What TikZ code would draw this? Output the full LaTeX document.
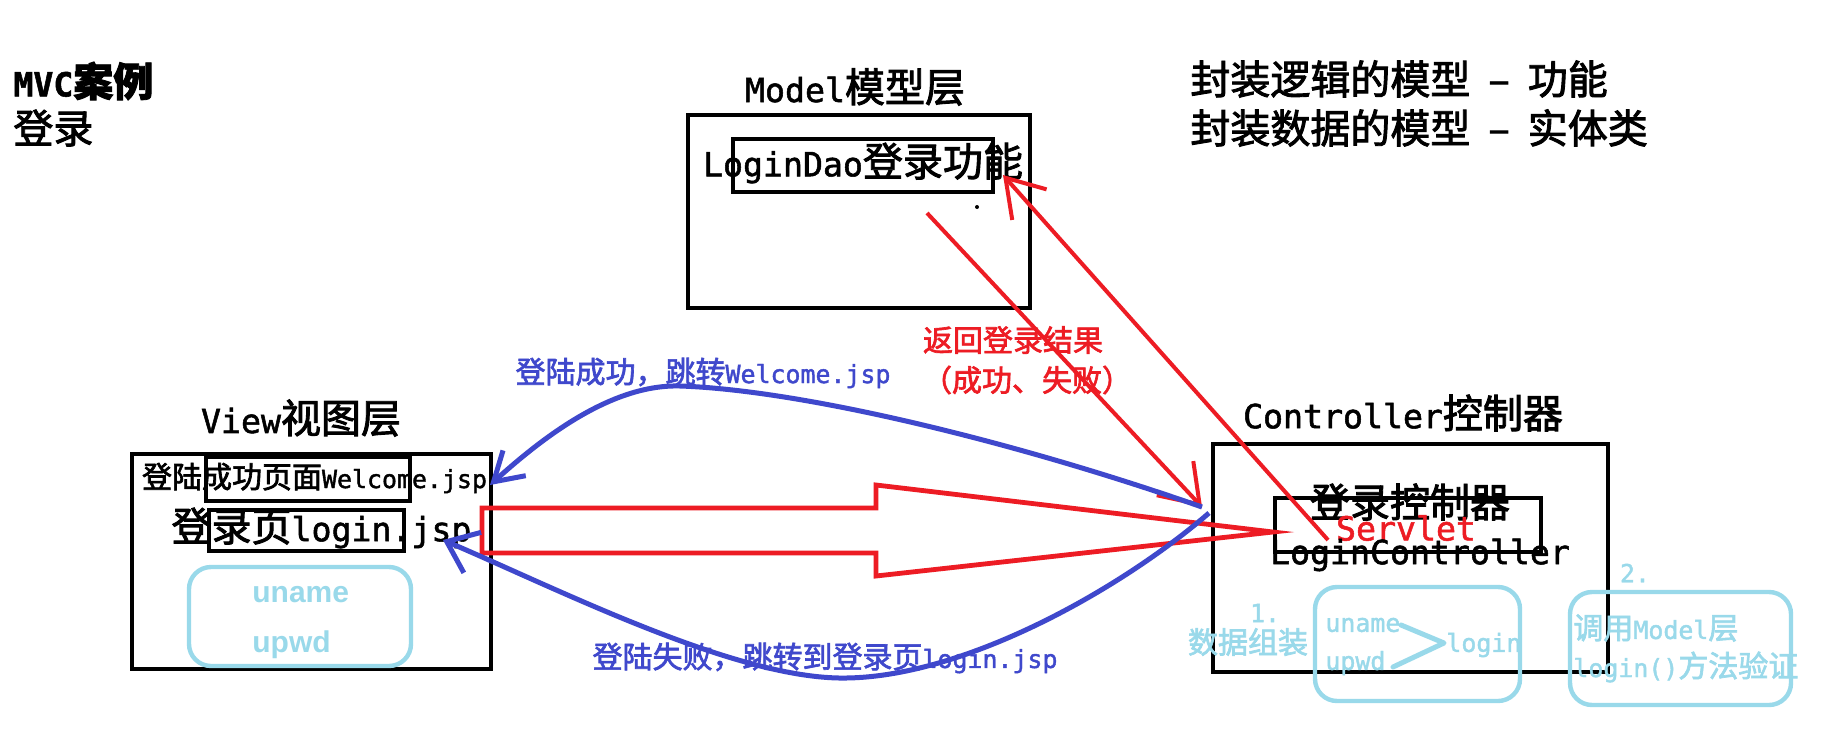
\documentclass[tikz,border=0pt]{standalone}
\usepackage{fontspec}
\setmainfont{Noto Sans CJK SC}[FakeBold=2.2]
\newfontfamily\monof{DejaVu Sans Mono}[Scale=0.83, FakeBold=1.6]
\newcommand\ml[1]{{\monof #1}}
\newfontfamily\arialf{Liberation Sans}
\usetikzlibrary{arrows.meta}
\definecolor{pred}{HTML}{ED1C24}
\definecolor{pblue}{HTML}{3F48CC}
\definecolor{plight}{HTML}{99D9EA}
\begin{document}
\begin{tikzpicture}[x=0.5pt,y=-0.5pt,
  box/.style={draw=black, line width=2.2pt, inner sep=0pt},
  rbox/.style={draw=plight, line width=2.2pt, rounded corners=11pt, inner sep=0pt},
  big/.style={inner sep=0pt, font=\fontsize{20pt}{22pt}\selectfont},
  small/.style={inner sep=0pt, font=\fontsize{15pt}{17pt}\selectfont},
  redline/.style={draw=pred, line width=2pt},
  blueline/.style={draw=pblue, line width=2.5pt},
  lightline/.style={draw=plight, line width=2.5pt, line join=round, line cap=round}
]
\useasboundingbox[fill=white] (0,0) rectangle (1823,728);

% top-left titles
\node[big, anchor=west, font=\fontsize{20pt}{22pt}\selectfont\bfseries] (t1) at (13,81) {\ml{MVC}案例};
\node[big, anchor=west] (t2) at (13,128) {登录};

% notes top-right
\node[big, anchor=west] (n1) at (1190,79) {封装逻辑的模型\hspace{0.45em}–\hspace{0.45em}功能};
\node[big, anchor=west] (n2) at (1190,128) {封装数据的模型\hspace{0.45em}–\hspace{0.45em}实体类};

% Model
\node[big] (mtitle) at (855,87) {\ml{Model}模型层};
\node[box, minimum width=171pt, minimum height=96.5pt] (model) at (859,211.5) {};
\node[box, minimum width=130pt, minimum height=26.5pt] (modelin) at (863,165.5) {};
\node[big] (dao) at (863,163) {\ml{LoginDao}登录功能};
\fill (977,207) circle (1pt);

% View
\node[big] (vtitle) at (301,418) {\ml{View}视图层};
\node[box, minimum width=179.5pt, minimum height=107.5pt] (view) at (311.5,561.5) {};
\node[box, minimum width=102pt, minimum height=22pt] (welbox) at (308,479) {};
\node[box, minimum width=97.5pt, minimum height=20.5pt] (logbox) at (306.5,530.5) {};
\node[small] (wel) at (314.5,478) {登陆成功页面\ml{Welcome.jsp}};
\node[big] (log) at (321.5,528) {登录页\ml{login.jsp}};
\node[rbox, minimum width=111pt, minimum height=49.5pt] (form) at (300,616.5) {};
\node[inner sep=0pt, anchor=west, text=plight, font=\arialf\bfseries\fontsize{15pt}{17pt}\selectfont] (vu) at (252,595) {uname};
\node[inner sep=0pt, anchor=west, text=plight, font=\arialf\bfseries\fontsize{15pt}{17pt}\selectfont] (vp) at (252,645) {upwd};

% Controller
\node[big] (ctitle) at (1403,413) {\ml{Controller}控制器};
\node[box, minimum width=197.5pt, minimum height=114pt] (ctrl) at (1410.5,558) {};
\node[box, minimum width=133pt, minimum height=27pt] (ctrlin) at (1408,525) {};
\node[big] (lc1) at (1410,502) {登录控制器};
\node[big, text=pred] (servlet) at (1406,528) {\ml{Servlet}};
\node[big] (lc2) at (1420,555) {\ml{LoginController}};

% step 1
\node[small, text=plight] (s1n) at (1265,613) {\ml{1.}};
\node[small, text=plight] (s1t) at (1248,642) {数据组装};
\node[rbox, minimum width=102.5pt, minimum height=57pt] (cb1) at (1417.5,644) {};
\node[small, anchor=west, text=plight] (cu) at (1325,625) {\ml{uname}};
\node[small, anchor=west, text=plight] (cp) at (1325,663) {\ml{upwd}};
\node[small, anchor=west, text=plight] (cl) at (1446,645) {\ml{login}};
\coordinate (chA) at (1401,625);
\coordinate (chB) at (1444,643);
\coordinate (chC) at (1393,667);
\draw[lightline] (chA) -- (chB) -- (chC);

% step 2
\node[small, text=plight] (s2n) at (1635,573) {\ml{2.}};
\node[rbox, minimum width=110.5pt, minimum height=56.5pt] (cb2) at (1680.5,648.5) {};
\node[small, anchor=west, text=plight] (s2a) at (1573,628) {调用\ml{Model}层};
\node[small, anchor=west, text=plight] (s2b) at (1573,667) {\ml{login()}方法验证};

% big hollow red arrow view -> controller
\coordinate (ba1) at (482,508);
\coordinate (ba2) at (876,508);
\coordinate (ba3) at (876,485);
\coordinate (batip) at (1273,532);
\coordinate (ba5) at (876,576);
\coordinate (ba6) at (876,553);
\coordinate (ba7) at (482,553);
\draw[redline, line width=2.4pt] (ba1) -- (ba2) -- (ba3) -- (batip) -- (ba5) -- (ba6) -- (ba7) -- cycle;

% red lines model <-> controller
\coordinate (retS) at (927,213);
\coordinate (retE) at (1202,507);
\draw[redline, -{Straight Barb[length=18pt,width=25pt,line width=2pt]}] (retS) -- (retE);
\coordinate (callS) at (1328,540);
\coordinate (callE) at (1003,175);
\draw[redline, -{Straight Barb[length=18pt,width=23pt,line width=2pt]}] (callS) -- (callE);
\node[small, text=pred] (ret1) at (1013,340) {返回登录结果};
\node[small, text=pred] (ret2) at (1027,380) {（成功、失败）};

% blue curves
\coordinate (okS) at (1202,507);
\coordinate (okP) at (680,386);
\coordinate (okE) at (490,485);
\draw[blueline, -{Straight Barb[length=14pt,width=17pt,line width=2.5pt]}]
  (okS) .. controls (1010,440) and (800,390) .. (okP)
        .. controls (610,384) and (540,440) .. (okE);
\node[small, text=pblue] (oklab) at (703,373) {登陆成功，跳转\ml{Welcome.jsp}};

\coordinate (failS) at (1209,513);
\coordinate (failB) at (839,678);
\coordinate (failE) at (443,540);
\draw[blueline, -{Straight Barb[length=14pt,width=22pt,line width=2.5pt]}]
  (failS) .. controls (1120,590) and (960,680) .. (failB)
          .. controls (730,676) and (560,590) .. (failE);
\node[small, text=pblue] (faillab) at (825,658) {登陆失败，跳转到登录页\ml{login.jsp}};
\end{tikzpicture}
\end{document}
